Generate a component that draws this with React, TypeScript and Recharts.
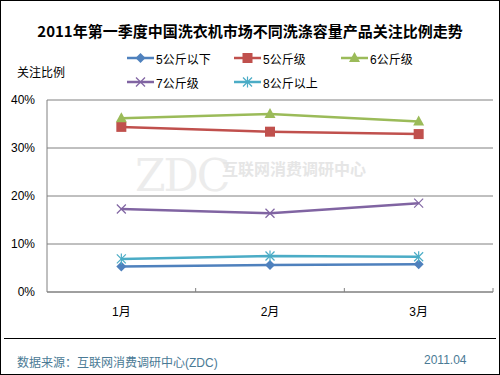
import { LineChart, Line, XAxis, YAxis, CartesianGrid } from 'recharts';

const months = ['1月', '2月', '3月'];
const seriesNames = ['5公斤以下', '5公斤级', '6公斤级', '7公斤级', '8公斤以上'];
const below5 = [5.3, 5.6, 5.8];
const kg5 = [34.4, 33.4, 32.9];
const kg6 = [36.2, 37.1, 35.5];
const kg7 = [17.3, 16.4, 18.5];
const above8 = [6.9, 7.5, 7.35];
const yTicks = [0, 10, 20, 30, 40];

const colors = ['#4F81BD', '#C0504D', '#9BBB59', '#8064A2', '#4BACC6'];
const kinds = ['diamond', 'square', 'triangle', 'x', 'star'];
const keys = ['s0', 's1', 's2', 's3', 's4'];

const data = months.map((month, i) => ({
  month,
  s0: below5[i],
  s1: kg5[i],
  s2: kg6[i],
  s3: kg7[i],
  s4: above8[i],
}));

const W = 500;
const H = 375;
const PLOT_LEFT = 47;
const PLOT_RIGHT = 493;
const PLOT_TOP = 100;
const PLOT_BOTTOM = 292;
const BAND = (PLOT_RIGHT - PLOT_LEFT) / months.length;
const FONT = "'Liberation Sans', 'Noto Sans CJK SC', sans-serif";

function Marker({ kind, color, cx, cy }: { kind: string; color: string; cx: number; cy: number }) {
  if (kind === 'diamond') {
    return <path d={`M${cx},${cy - 5}L${cx + 5},${cy}L${cx},${cy + 5}L${cx - 5},${cy}Z`} fill={color} />;
  }
  if (kind === 'square') {
    return <rect x={cx - 5} y={cy - 5} width={10} height={10} fill={color} />;
  }
  if (kind === 'triangle') {
    return <path d={`M${cx},${cy - 6}L${cx + 5.5},${cy + 4}L${cx - 5.5},${cy + 4}Z`} fill={color} />;
  }
  if (kind === 'x') {
    return (
      <g stroke={color} strokeWidth={1.2}>
        <line x1={cx - 4.5} y1={cy - 4.5} x2={cx + 4.5} y2={cy + 4.5} />
        <line x1={cx - 4.5} y1={cy + 4.5} x2={cx + 4.5} y2={cy - 4.5} />
      </g>
    );
  }
  return (
    <g stroke={color} strokeWidth={1.2}>
      <line x1={cx - 4.5} y1={cy - 4.5} x2={cx + 4.5} y2={cy + 4.5} />
      <line x1={cx - 4.5} y1={cy + 4.5} x2={cx + 4.5} y2={cy - 4.5} />
      <line x1={cx} y1={cy - 5.5} x2={cx} y2={cy + 5.5} />
    </g>
  );
}

const makeDot = (kind: string, color: string) => (props: any) =>
  <Marker key={`${kind}-${props.index}`} kind={kind} color={color} cx={props.cx} cy={props.cy} />;

function XTick(props: any) {
  const { x, payload } = props;
  const edge = x + BAND / 2;
  return (
    <g>
      <line x1={edge} y1={PLOT_BOTTOM - 4} x2={edge} y2={PLOT_BOTTOM} stroke="#808080" />
      <text x={x} y={316} textAnchor="middle" fontSize={12} fontFamily={FONT} fill="#000">
        {payload.value}
      </text>
    </g>
  );
}

function ChartLegend() {
  return (
    <div
      style={{
        position: 'absolute',
        left: 127,
        top: 49,
        display: 'grid',
        gridTemplateColumns: '107px 107px 107px',
        rowGap: 6,
        fontFamily: FONT,
        fontSize: 12,
      }}
    >
      {seriesNames.map((name, i) => (
        <div key={name} style={{ display: 'flex', alignItems: 'center', height: 18 }}>
          <svg width={28} height={14} style={{ marginRight: 1 }}>
            <line x1={0} y1={7} x2={27} y2={7} stroke={colors[i]} strokeWidth={2.5} />
            <Marker kind={kinds[i]} color={colors[i]} cx={13.5} cy={7} />
          </svg>
          <span style={{ color: '#000' }}>{name}</span>
        </div>
      ))}
    </div>
  );
}

export default function App() {
  return (
    <div style={{ position: 'absolute', left: 0, top: 0, width: W, height: H, background: '#fff', fontFamily: FONT }}>
      <div style={{ position: 'absolute', inset: 0, border: '1px solid #000', boxSizing: 'border-box', pointerEvents: 'none', zIndex: 3 }} />
      <div style={{ position: 'absolute', left: 0, top: 20, width: W, textAlign: 'center', fontSize: 15, fontWeight: 'bold', whiteSpace: 'nowrap', fontFamily: "'Noto Sans CJK SC', sans-serif", color: '#000' }}>
        2011年第一季度中国洗衣机市场不同洗涤容量产品关注比例走势
      </div>
      <div style={{ position: 'absolute', left: 17, top: 63, fontSize: 12, color: '#000' }}>关注比例</div>
      <div style={{ position: 'absolute', left: 135, top: 150, fontSize: 44, fontFamily: "'DejaVu Serif', serif", color: '#ececec', letterSpacing: -2 }}>ZDC</div>
      <div style={{ position: 'absolute', left: 222, top: 156, fontSize: 16, fontWeight: 'bold', fontFamily: "'Noto Sans CJK SC', sans-serif", color: '#e6e6e6' }}>互联网消费调研中心</div>
      <LineChart
        width={W}
        height={H}
        data={data}
        margin={{ top: PLOT_TOP, right: W - PLOT_RIGHT, bottom: H - PLOT_BOTTOM - 30, left: 0 }}
        style={{ position: 'absolute', left: 0, top: 0 }}
      >
        <CartesianGrid vertical={false} stroke="#808080" />
        <XAxis
          dataKey="month"
          scale="band"
          height={30}
          axisLine={{ stroke: '#808080' }}
          tickLine={false}
          tick={<XTick />}
          interval={0}
        />
        <YAxis
          width={PLOT_LEFT}
          domain={[0, 40]}
          ticks={yTicks}
          tickFormatter={(v) => `${v}%`}
          axisLine={{ stroke: '#808080' }}
          tickLine={false}
          tickMargin={6}
          tick={{ fontSize: 12, fill: '#000', fontFamily: FONT }}
          interval={0}
        />
        {keys.map((k, i) => (
          <Line
            key={k}
            dataKey={k}
            name={seriesNames[i]}
            stroke={colors[i]}
            strokeWidth={2.5}
            dot={makeDot(kinds[i], colors[i])}
            activeDot={false}
            isAnimationActive={false}
          />
        ))}
      </LineChart>
      <ChartLegend />
      <div style={{ position: 'absolute', left: 4, top: 338, width: 492, borderTop: '1px solid #000' }} />
      <div style={{ position: 'absolute', left: 17, top: 353, fontSize: 12, color: '#4A7A95' }}>数据来源：互联网消费调研中心(ZDC)</div>
      <div style={{ position: 'absolute', left: 424, top: 353, fontSize: 12, color: '#4A7A95' }}>2011.04</div>
    </div>
  );
}
